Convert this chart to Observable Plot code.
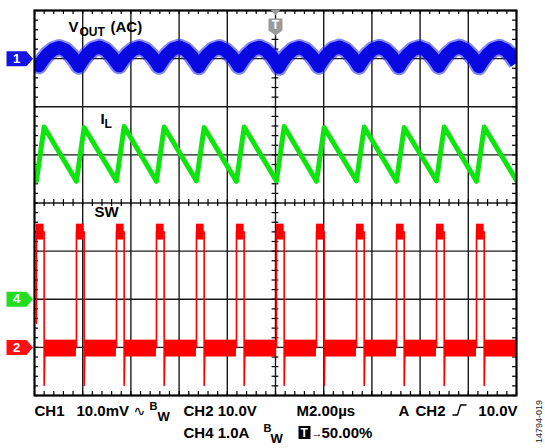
<!DOCTYPE html>
<html><head><meta charset="utf-8">
<script src="https://cdn.jsdelivr.net/npm/d3@7"></script>
<script src="https://cdn.jsdelivr.net/npm/@observablehq/plot@0.6"></script>
<style>
body{margin:0;background:#fff;}
#chart svg{display:block;}
</style></head><body><div id="chart"></div>
<script>
// ---- screen settings (oscilloscope) ----
const gridTimes = [-10,-8,-6,-4,-2,0,2,4,6,8,10];        // µs, 2.00 µs/div
const gridDivs  = [-4,-3,-2,-1,0,1,2,3,4];                // vertical divisions
const channels = [
  {ch:"1", name:"VOUT", offset:3,  scale:10,  color:"#1414e6"},   // 10.0 mV/div
  {ch:"4", name:"IL",   offset:-2, scale:1,   color:"#22dd22"},   // 1.0 A/div
  {ch:"2", name:"SW",   offset:-3, scale:10,  color:"#ff1010"}    // 10.0 V/div
];

// ---- CH1: VOUT (AC), mV vs µs ----
const voutT = [-10,-9.82,-9.67,-9.47,-9.22,-8.97,-8.72,-8.47,-8.30,
  -8.16,-8.01,-7.81,-7.56,-7.31,-7.06,-6.81,-6.64,
  -6.50,-6.35,-6.15,-5.90,-5.65,-5.40,-5.15,-4.98,
  -4.84,-4.69,-4.49,-4.24,-3.99,-3.74,-3.49,-3.32,
  -3.18,-3.03,-2.83,-2.58,-2.33,-2.08,-1.83,-1.66,
  -1.52,-1.37,-1.17,-0.92,-0.67,-0.42,-0.17,0.00,
  0.14,0.29,0.49,0.74,0.99,1.24,1.49,1.66,
  1.80,1.95,2.15,2.40,2.65,2.90,3.15,3.32,
  3.46,3.61,3.81,4.06,4.31,4.56,4.81,4.98,
  5.12,5.27,5.47,5.72,5.97,6.22,6.47,6.64,
  6.78,6.93,7.13,7.38,7.63,7.88,8.13,8.30,
  8.44,8.59,8.79,9.04,9.29,9.54,9.79,9.96,10];
const voutMv = [-0.9,-1.5,-0.4,0.85,1.9,2.3,1.8,0.6,-0.5,
  -1.6,-0.4,0.9,2.0,2.4,1.85,0.6,-0.5,
  -1.5,-0.4,0.85,1.9,2.3,1.8,0.6,-0.5,
  -1.6,-0.4,0.9,2.0,2.4,1.85,0.6,-0.6,
  -1.7,-0.5,0.8,1.9,2.3,1.75,0.55,-0.5,
  -1.6,-0.4,0.85,1.95,2.35,1.8,0.6,-0.6,
  -1.8,-0.5,0.8,1.9,2.3,1.8,0.6,-0.5,
  -1.6,-0.4,0.9,2.0,2.4,1.85,0.6,-0.5,
  -1.6,-0.4,0.85,1.95,2.35,1.8,0.6,-0.6,
  -1.7,-0.5,0.8,1.9,2.3,1.8,0.55,-0.5,
  -1.6,-0.4,0.9,2.0,2.4,1.85,0.6,-0.5,
  -1.7,-0.5,0.85,1.95,2.35,1.8,0.6,-0.6,-0.9];

// ---- CH4: inductor current IL, A vs µs ----
const ilT = [-10,-9.92,-9.60,-8.26,-7.94,-6.60,-6.28,-4.94,-4.62,-3.28,-2.96,-1.62,-1.30,
  0.04,0.36,1.70,2.02,3.36,3.68,5.02,5.34,6.68,7.00,8.34,8.66,10];
const ilA = [2.50,2.46,3.58,2.45,3.57,2.46,3.59,2.45,3.58,2.46,3.57,2.45,3.58,
  2.46,3.59,2.45,3.57,2.46,3.58,2.45,3.57,2.46,3.58,2.45,3.58,2.47];

// ---- CH2: switch node SW, pulses (µs) and levels (V) ----
const swRise = [-9.92,-8.26,-6.60,-4.94,-3.28,-1.62,0.04,1.70,3.36,5.02,6.68,8.34];
const swFall = [-9.60,-7.94,-6.28,-4.62,-2.96,-1.30,0.36,2.02,3.68,5.34,7.00,8.66];
const swHighBand = [22.3, 25.6];
const swLowBand  = [-2.0, 1.5];
const swHighLevel = 24;
const swUndershoot = -7.9;
const swStartLevel = 5;

// ---- build tables ----
const ch1 = channels[0], ch4 = channels[1], ch2 = channels[2];
const toDiv = (c, v) => c.offset + v / c.scale;
const vout = voutT.map((t, i) => ({t, y: toDiv(ch1, voutMv[i])}));
const il = ilT.map((t, i) => ({t, y: toDiv(ch4, ilA[i])}));
const swPath = [{t: swRise[0], y: toDiv(ch2, swStartLevel)}];
swRise.forEach((r, i) => {
  if (i > 0) swPath.push({t: r, y: toDiv(ch2, 0)});
  swPath.push({t: r, y: toDiv(ch2, swHighLevel)});
  swPath.push({t: swFall[i], y: toDiv(ch2, swHighLevel)});
  swPath.push({t: swFall[i], y: toDiv(ch2, swUndershoot)});
  swPath.push({t: swFall[i] + 0.03, y: toDiv(ch2, 0)});
});
swPath.push({t: 10, y: toDiv(ch2, 0)});
const swHigh = swRise.map((r, i) => ({x1: r, x2: swFall[i], y1: toDiv(ch2, swHighBand[0]), y2: toDiv(ch2, swHighBand[1])}));
const swLow = swFall.map((f, i) => ({x1: f + 0.03, x2: i + 1 < swRise.length ? swRise[i + 1] : 10,
  y1: toDiv(ch2, swLowBand[0]), y2: toDiv(ch2, swLowBand[1])}));

// minor tick positions (5 per division)
const minorT = d3.range(-10, 10.001, 0.4);
const minorD = d3.range(-4, 4.001, 0.2);
const tlx = 4 / 24.1, tly = 4 / 48.125; // 4 px tick length in data units

// ---- symbols ----
const arrowSym = {draw(ctx) {ctx.moveTo(-13,-7.5);ctx.lineTo(7,-7.5);ctx.lineTo(13.5,0);ctx.lineTo(7,7.5);ctx.lineTo(-13,7.5);ctx.closePath();}};
const trigSym = {draw(ctx) {
  ctx.moveTo(-5,-1);ctx.lineTo(5,-1);ctx.lineTo(0,5);ctx.closePath();
  ctx.moveTo(-7,8);ctx.lineTo(7,8);ctx.lineTo(7,20);ctx.lineTo(0,25);ctx.lineTo(-7,20);ctx.closePath();}};
const edgeSym = {draw(ctx) {ctx.moveTo(-7,5);ctx.lineTo(-2,5);ctx.lineTo(1,-5);ctx.lineTo(7,-5);}};
const boxSym = {draw(ctx) {ctx.rect(-6,-6.5,12,13);}};

const FONT = "'Liberation Sans', Arial, Helvetica, sans-serif";
function lab(str, px, base, size, extra = {}) {
  return Plot.text([str], {frameAnchor: "top-left", dx: px - 34, dy: base - 0.32 * size - 10,
    text: d => d, textAnchor: "start", lineAnchor: "middle", fontSize: size, fontWeight: "bold",
    fill: "black", ...extra});
}

const L1 = 415, L2 = 437, FS = 15;
const chart = Plot.plot({
  width: 545, height: 448,
  marginLeft: 34, marginRight: 29, marginTop: 10, marginBottom: 53,
  x: {domain: [-10, 10], axis: null},
  y: {domain: [-4, 4], axis: null},
  color: {type: "identity"},
  style: {background: "white", fontFamily: FONT},
  marks: [
    Plot.ruleX(gridTimes, {x: d => d, stroke: "#1a1a1a", strokeWidth: 1.4}),
    Plot.ruleY(gridDivs, {y: d => d, stroke: "#1a1a1a", strokeWidth: 1.4}),
    // minor ticks on border and center lines
    Plot.ruleX(minorT, {x: d => d, y1: 4, y2: 4 - tly, stroke: "black", strokeWidth: 1.2}),
    Plot.ruleX(minorT, {x: d => d, y1: -4, y2: -4 + tly, stroke: "black", strokeWidth: 1.2}),
    Plot.ruleX(minorT, {x: d => d, y1: -tly * 0.85, y2: tly * 0.85, stroke: "black", strokeWidth: 1.2}),
    Plot.ruleY(minorD, {y: d => d, x1: -10, x2: -10 + tlx, stroke: "black", strokeWidth: 1.2}),
    Plot.ruleY(minorD, {y: d => d, x1: 10, x2: 10 - tlx, stroke: "black", strokeWidth: 1.2}),
    Plot.ruleY(minorD, {y: d => d, x1: -tlx * 0.85, x2: tlx * 0.85, stroke: "black", strokeWidth: 1.2}),
    // CH1 VOUT
    Plot.line(vout, {x: "t", y: "y", stroke: "#1f1fff", strokeWidth: 17, strokeOpacity: 0.55, strokeLinejoin: "round", strokeLinecap: "butt", clip: true}),
    Plot.line(vout, {x: "t", y: "y", stroke: "#0808e0", strokeWidth: 13, strokeLinejoin: "round", strokeLinecap: "butt", clip: true}),
    // CH4 IL
    Plot.line(il, {x: "t", y: "y", stroke: "#0ee40e", strokeWidth: 5, strokeLinejoin: "round", clip: true}),
    // CH2 SW
    Plot.rect(swLow, {x1: "x1", x2: "x2", y1: "y1", y2: "y2", fill: "#ff0000", clip: true}),
    Plot.rect(swHigh, {x1: "x1", x2: "x2", y1: "y1", y2: "y2", fill: "#ff0000", clip: true}),
    Plot.line(swPath, {x: "t", y: "y", stroke: "#ff0000", strokeWidth: 1.6, clip: true}),
    Plot.frame({stroke: "black", strokeWidth: 2}),
    // channel markers
    Plot.dot(channels, {x: () => -10, y: "offset", dx: -15, symbol: arrowSym, fill: "color", stroke: null}),
    Plot.text(channels, {x: () => -10, y: "offset", dx: -18, text: "ch", fill: "white", fontWeight: "bold", fontSize: 13}),
    // trigger position marker
    Plot.dot([0], {x: d => d, y: () => 4, symbol: trigSym, fill: "#9a9a9a", stroke: null}),
    Plot.text(["T"], {x: () => 0, y: () => 4, dy: 14.5, text: d => d, fill: "white", fontWeight: "bold", fontSize: 12}),
    // trace labels
    lab("V", 68, 31, FS),
    lab("OUT", 79, 35, 12),
    lab("(AC)", 110, 31, FS),
    lab("I", 100, 123, FS),
    lab("L", 104, 127, 12),
    lab("SW", 94, 216, FS),
    // scope settings readout
    lab("CH1", 34, L1, FS),
    lab("10.0mV", 76, L1, FS),
    lab("\u223F", 133, L1, 14, {fontWeight: "normal", fontFamily: "'DejaVu Sans', sans-serif"}),
    lab("B", 149, L1 - 6, 11),
    lab("W", 157, L1 + 5, 13),
    lab("CH2 10.0V", 183, L1, FS),
    lab("M2.00\u00B5s", 296, L1, FS),
    lab("A", 398, L1, FS),
    lab("CH2", 415, L1, FS),
    Plot.dot([0], {frameAnchor: "top-left", dx: 459 - 34, dy: L1 - 5.5 - 10, symbol: edgeSym, fill: "none", stroke: "black", strokeWidth: 1.3}),
    lab("10.0V", 517, L1, FS, {textAnchor: "end"}),
    lab("CH4 1.0A", 183, L2, FS),
    lab("B", 263, L2 - 6, 11),
    lab("W", 270, L2 + 5, 13),
    Plot.dot([0], {frameAnchor: "top-left", dx: 304 - 34, dy: L2 - 5 - 10, symbol: boxSym, fill: "black", stroke: null}),
    lab("T", 300, L2 - 0.5, 12, {fill: "white"}),
    lab("\u2192", 311, L2 - 1, 11),
    lab("50.00%", 321, L2, FS),
    Plot.text(["14794-019"], {frameAnchor: "top-left", dx: 539 - 34, dy: 421 - 10, text: d => d, rotate: -90,
      textAnchor: "middle", lineAnchor: "middle", fontSize: 9, fill: "#222"})
  ]
});
document.getElementById("chart").appendChild(chart);
</script></body></html>
